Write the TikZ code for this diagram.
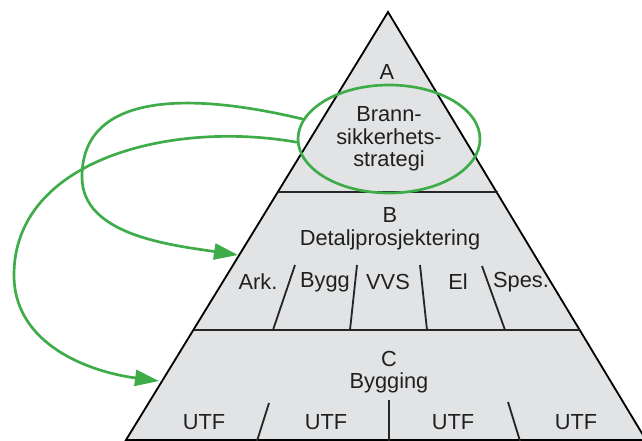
\documentclass[tikz,border=0pt]{standalone}
\usepackage{fontspec}
\setmainfont{Liberation Sans}
\usetikzlibrary{shapes.geometric,arrows.meta,positioning}

\definecolor{tierfill}{RGB}{226,227,229}
\definecolor{flowgreen}{RGB}{62,172,72}
\definecolor{inkgray}{RGB}{32,32,32}

\tikzset{
  lbl/.style={text=inkgray, inner sep=0pt, align=center, font=\fontsize{31}{32}\selectfont},
  divider/.style={draw=black!85, line width=2.6pt},
  flow/.style={draw=flowgreen, line width=3.8pt, -{Triangle[length=1.2cm, width=0.8cm]}}
}

\begin{document}
\begin{tikzpicture}[x=0.05cm, y=-0.05cm]
    \clip (0,0) rectangle (642,441);
    \fill[white] (0,0) rectangle (642,441);

    % Pyramid corners and tier borders
    \coordinate (apex) at (388,12);
    \coordinate (bl) at (126,440);
    \coordinate (br) at (646,440);
    \coordinate (abL) at (278,192);
    \coordinate (abR) at (498,192);
    \coordinate (bcL) at (194,330);
    \coordinate (bcR) at (580,330);

    \draw[fill=tierfill, line width=2.6pt, line join=miter] (apex) -- (br) -- (bl) -- cycle;
    \draw[divider] (abL) -- (abR);
    \draw[divider] (bcL) -- (bcR);

    % Tier A
    \node[lbl] (tierA) at (387,72) {A};
    \node[ellipse, draw=flowgreen, line width=3.8pt, minimum width=9.1cm, minimum height=5.4cm, lbl] (strat) at (389,139) {Brann-\\sikkerhets-\\strategi};

    % Tier B
    \node[lbl] (tierB) at (390,229) {B\\Detaljprosjektering};
    \node[lbl] (ark) at (258,282) {Ark.};
    \node[lbl] (bygg) at (325,282) {Bygg};
    \node[lbl] (vvs) at (388,282) {VVS};
    \node[lbl] (el) at (458,282) {El};
    \node[lbl] (spes) at (521,282) {Spes.};
    \draw[divider] (295,265) -- (273,330);
    \draw[divider] (357,265) -- (350,330);
    \draw[divider] (420,265) -- (427,330);
    \draw[divider] (482,266) -- (505,330);

    % Tier C
    \node[lbl] (tierC) at (389,372) {C\\Bygging};
    \node[lbl] (utfA) at (204,422) {UTF};
    \node[lbl] (utfB) at (326,422) {UTF};
    \node[lbl] (utfC) at (453,422) {UTF};
    \node[lbl] (utfD) at (576,422) {UTF};
    \draw[divider] (269,403) -- (257,441);
    \draw[divider] (389,400) -- (389,441);
    \draw[divider] (508,402) -- (520,441);

    % Strategy fed down to B and C
    \coordinate (tipB) at (238,255);
    \coordinate (tipC) at (159,381);
    \draw[flow] (strat.167) .. controls (190,92) and (82,92) .. (82,177)
        .. controls (82,235) and (170,245) .. (tipB);
    \draw[flow] (strat.182) .. controls (170,120) and (14,160) .. (14,275)
        .. controls (14,345) and (90,372) .. (tipC);
\end{tikzpicture}
\end{document}
